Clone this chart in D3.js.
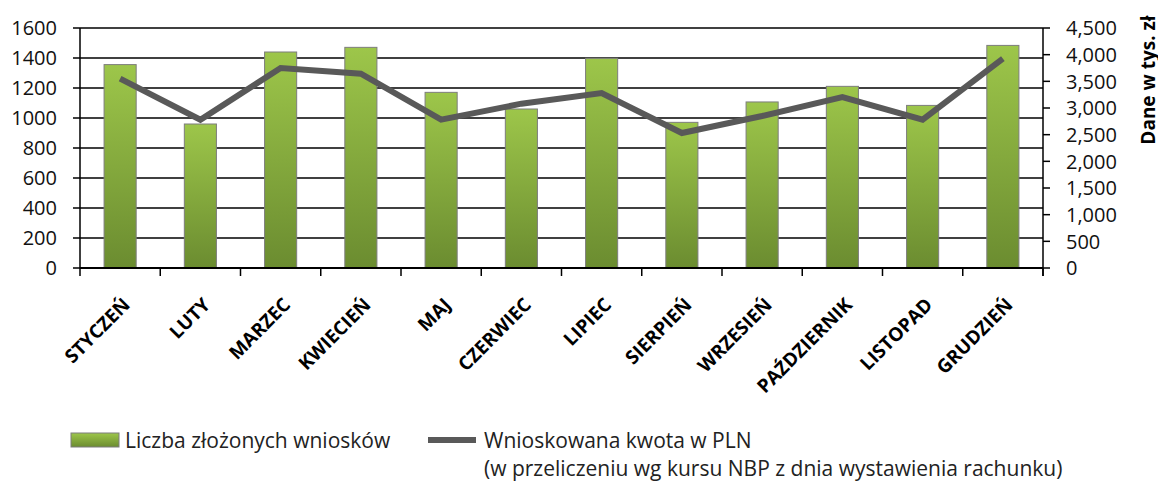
<!DOCTYPE html>
<html>
<head>
<meta charset="utf-8">
<script src="https://cdn.jsdelivr.net/npm/d3@7"></script>
<style>
body { margin:0; background:white; }
svg { display:block; font-family:"Open Sans", sans-serif; }
</style>
</head>
<body>
<script>
var months = ["STYCZEŃ","LUTY","MARZEC","KWIECIEŃ","MAJ","CZERWIEC","LIPIEC","SIERPIEŃ","WRZESIEŃ","PAŹDZIERNIK","LISTOPAD","GRUDZIEŃ"]
var wnioski = [1356,960,1440,1471,1171,1060,1398,971,1107,1211,1084,1484]
var kwota = [3550,2781,3750,3644,2781,3081,3281,2531,2850,3206,2781,3925]
var leftTicks = [0,200,400,600,800,1000,1200,1400,1600]
var rightTicks = [0,500,1000,1500,2000,2500,3000,3500,4000,4500]
var barLabel = "Liczba złożonych wniosków"
var lineLabel = ["Wnioskowana kwota w PLN","(w przeliczeniu wg kursu NBP z dnia wystawienia rachunku)"]

var width = 1158, height = 481
var plotLeft = 80, plotRight = 1043, plotTop = 28, plotBottom = 268

var svg = d3.select("body").append("svg")
  .attr("width",width)
  .attr("height",height)

var grad = svg.append("defs").append("linearGradient")
  .attr("id","barGrad")
  .attr("x1",0).attr("y1",0).attr("x2",0).attr("y2",1)
grad.append("stop").attr("offset","0%").attr("stop-color","#9dc64a")
grad.append("stop").attr("offset","100%").attr("stop-color","#6b8c30")

var x = d3.scaleBand()
  .domain(months)
  .range([plotLeft,plotRight])
  .paddingInner(0.6)
  .paddingOuter(0.3)

var xEdge = d3.scaleLinear().domain([0,12]).range([plotLeft,plotRight])

var yLeft = d3.scaleLinear().domain([0,1600]).range([plotBottom,plotTop])
var yRight = d3.scaleLinear().domain([0,4500]).range([plotBottom,plotTop])

// gridlines
svg.append("g")
  .selectAll("line")
  .data(leftTicks)
  .join("line")
  .attr("x1",plotLeft-7)
  .attr("x2",plotRight)
  .attr("y1",d=>yLeft(d))
  .attr("y2",d=>yLeft(d))
  .attr("stroke","#000")
  .attr("stroke-width",1.5)

// left labels
svg.append("g")
  .selectAll("text")
  .data(leftTicks)
  .join("text")
  .attr("x",57)
  .attr("y",d=>yLeft(d))
  .attr("dy","0.36em")
  .attr("text-anchor","end")
  .style("font-size","20px")
  .attr("fill","#111")
  .text(d=>d)

// right axis
var rAxis = svg.append("g")
rAxis.selectAll("line")
  .data(rightTicks)
  .join("line")
  .attr("x1",plotRight)
  .attr("x2",plotRight+7)
  .attr("y1",d=>yRight(d))
  .attr("y2",d=>yRight(d))
  .attr("stroke","#000")
  .attr("stroke-width",1.5)
rAxis.selectAll("text")
  .data(rightTicks)
  .join("text")
  .attr("x",1066)
  .attr("y",d=>yRight(d))
  .attr("dy","0.36em")
  .style("font-size","20px")
  .attr("fill","#111")
  .text(d=>d3.format(",")(d))

// bars
svg.append("g")
  .selectAll("rect")
  .data(wnioski)
  .join("rect")
  .attr("x",(d,i)=>x(months[i]))
  .attr("width",x.bandwidth())
  .attr("y",d=>yLeft(d))
  .attr("height",d=>plotBottom-yLeft(d))
  .attr("fill","url(#barGrad)")
  .attr("stroke","#7d7d7d")
  .attr("stroke-width",1)

// axis lines
svg.append("line")
  .attr("x1",plotLeft).attr("x2",plotLeft).attr("y1",plotTop).attr("y2",plotBottom)
  .attr("stroke","#000").attr("stroke-width",1.5)
svg.append("line")
  .attr("x1",plotRight).attr("x2",plotRight).attr("y1",plotTop).attr("y2",plotBottom+8)
  .attr("stroke","#000").attr("stroke-width",1.5)
svg.append("line")
  .attr("x1",plotLeft).attr("x2",plotRight).attr("y1",plotBottom).attr("y2",plotBottom)
  .attr("stroke","#000").attr("stroke-width",2)

// x ticks
svg.append("g")
  .selectAll("line")
  .data(d3.range(13))
  .join("line")
  .attr("x1",d=>xEdge(d))
  .attr("x2",d=>xEdge(d))
  .attr("y1",plotBottom)
  .attr("y2",plotBottom+8)
  .attr("stroke","#000")
  .attr("stroke-width",1.5)

// line
var line = d3.line()
  .x((d,i)=>x(months[i])+x.bandwidth()/2)
  .y(d=>yRight(d))
svg.append("path")
  .datum(kwota)
  .attr("d",line)
  .attr("fill","none")
  .attr("stroke","#595959")
  .attr("stroke-width",6)
  .attr("stroke-linejoin","miter")

// month labels
svg.append("g")
  .selectAll("text")
  .data(months)
  .join("text")
  .attr("transform",d=>"translate("+(x(d)+x.bandwidth()/2+11)+","+(plotBottom+38)+") rotate(-45)")
  .attr("text-anchor","end")
  .style("font-size","19px")
  .style("font-weight","bold")
  .attr("fill","#000")
  .text(d=>d)

// right title
svg.append("text")
  .attr("transform","translate(1155,80) rotate(-90)")
  .attr("text-anchor","middle")
  .style("font-size","19px")
  .style("font-weight","bold")
  .attr("fill","#000")
  .text("Dane w tys. zł")

// legend
var leg = svg.append("g")
leg.append("rect")
  .attr("x",71).attr("y",433).attr("width",48).attr("height",14)
  .attr("fill","url(#barGrad)").attr("stroke","#7d7d7d")
leg.append("text")
  .attr("x",125).attr("y",448)
  .style("font-size","21px").attr("fill","#222")
  .text(barLabel)
leg.append("line")
  .attr("x1",428).attr("x2",476).attr("y1",440).attr("y2",440)
  .attr("stroke","#595959").attr("stroke-width",6)
leg.selectAll("text.l2")
  .data(lineLabel)
  .join("text")
  .attr("class","l2")
  .attr("x",484)
  .attr("y",(d,i)=>448+i*28)
  .style("font-size","21px").attr("fill","#222")
  .text(d=>d)
</script>
</body>
</html>
